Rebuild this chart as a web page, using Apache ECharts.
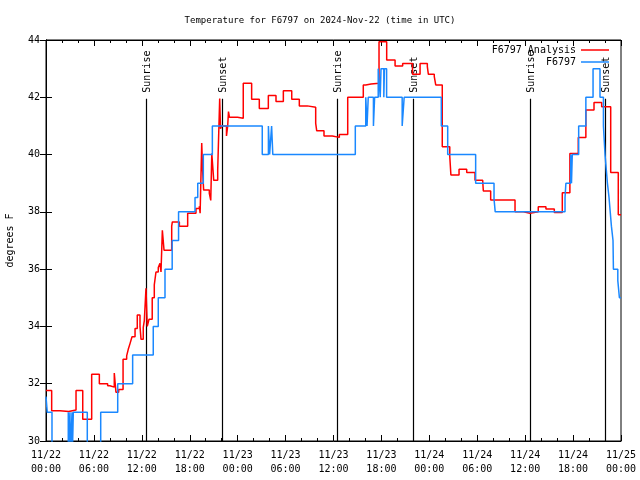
<!DOCTYPE html>
<html><head><meta charset="utf-8">
<script src="https://cdn.jsdelivr.net/npm/echarts@6/dist/echarts.min.js"></script>
<style>html,body{margin:0;padding:0;background:#fff}#c{width:640px;height:480px}</style>
</head><body><div id="c"></div>
<script>
// hours since 2024-11-22 00:00 UTC
const redTimes = [0,0.71,1.75,2.84,3.76,4.6,5.72,6.68,7.72,8.0,8.55,8.76,9.1,9.65,10.1,10.3,10.52,10.77,11.15,11.43,11.77,11.9,12.18,12.31,12.52,12.68,12.9,13.3,13.56,13.77,14.06,14.27,14.4,14.57,14.78,15.74,15.82,16.7,17.74,18.78,19.2,19.3,19.5,19.6,19.74,20.45,20.63,20.76,20.9,21.0,21.5,21.68,21.75,21.85,22.0,22.6,22.75,22.85,22.97,23.98,24.7,25.75,26.71,27.84,28.8,29.72,30.77,31.72,32.72,33.77,33.9,34.81,35.85,36.73,37.78,39.73,40.04,40.7,41.7,42.66,43.71,44.66,45.89,46.84,47.75,47.88,48.62,48.8,49.62,50.56,50.7,51.72,52.68,53.72,54.68,54.76,55.68,58.73,59.77,60.61,61.64,62.6,63.65,64.65,65.6,66.65,67.6,68.62,69.58,70.71,71.66,72];
const redValues = [31.76,31.06,31.03,31.08,31.76,30.76,32.33,32.0,31.93,31.88,32.37,31.7,31.8,32.85,32.97,33.2,33.4,33.64,33.93,34.4,34.0,33.55,33.97,34.2,35.33,34.0,34.25,35.0,35.45,35.9,36.06,36.2,35.9,37.36,36.66,37.5,37.65,37.5,37.95,38.12,38.2,37.95,40.4,39.5,38.76,38.65,38.4,40.04,39.5,39.1,39.46,39.46,41.96,40.9,41.0,40.65,41.0,41.5,41.3,41.27,42.49,41.93,41.61,42.06,41.85,42.23,41.93,41.7,41.65,41.09,40.83,40.65,40.6,40.7,42.0,42.43,42.46,42.49,43.94,43.3,43.09,43.18,42.8,43.18,43.07,42.8,42.72,42.43,40.27,39.93,39.29,39.49,39.37,39.1,39.05,38.73,38.41,38.0,37.95,38.0,38.18,38.1,37.98,38.67,40.04,40.6,41.56,41.82,41.67,39.37,37.9,37.9];
const blueTimes = [0,0.16,0.75,2.79,2.85,3.0,3.05,3.26,3.3,3.42,5.17,6.85,8.98,10.85,13.43,14.06,14.9,15.8,16.6,18.66,19.0,19.7,20.83,27.08,27.85,28.0,28.25,28.4,38.73,40.04,40.2,40.35,41.0,41.15,41.6,41.85,41.95,42.3,42.38,42.65,44.6,44.85,49.5,50.3,53.8,56.1,56.25,64.99,65.1,65.7,65.8,65.9,66.7,67.6,68.5,69.37,69.8,70.0,70.15,70.3,70.5,70.65,70.8,71.0,71.05,71.6,71.8,72];
const blueValues = [31.55,31.0,29.5,31.0,29.5,31.0,29.5,31.0,29.5,31.0,29.5,31.0,32.0,33.0,34.0,35.0,36.0,37.0,38.0,38.5,39.0,40.0,41.0,40.0,41.0,40.0,41.0,40.0,41.0,42.0,41.0,42.0,41.0,42.0,43.0,42.0,43.0,42.0,43.0,42.0,41.0,42.0,41.0,40.0,39.0,38.45,38.0,38.5,39.0,40.0,39.0,40.0,41.0,42.0,43.0,42.0,41.0,40.0,39.5,39.0,38.5,38.0,37.5,37.0,36.0,35.6,35.0,35.0];
const sunTimes = [12.52,22.04,36.44,46.0,60.57,70.04];
const sunLabels = ['Sunrise','Sunset','Sunrise','Sunset','Sunrise','Sunset'];
const yTicks = [30,32,34,36,38,40,42,44];
const seriesNames = ['F6797 Analysis','F6797'];

const FONT = 'DejaVu Sans Mono';
const zip = (a,b)=>a.map((t,i)=>[t,b[i]]);
function xLabel(h){
  const day = 22 + Math.floor(h/24);
  const hr = Math.round(h % 24);
  return '11/' + day + '\n' + String(hr).padStart(2,'0') + ':00';
}
const chart = echarts.init(document.getElementById('c'), null, {renderer:'canvas'});
const baseX = {type:'value', min:0, max:72, interval:6,
  axisLine:{show:true, lineStyle:{color:'#000', width:1}},
  axisTick:{show:true, inside:true, length:6, lineStyle:{color:'#000'}},
  minorTick:{show:true, splitNumber:3, length:3, lineStyle:{color:'#000'}},
  splitLine:{show:false}};
chart.setOption({
  animation:false,
  backgroundColor:'#fff',
  title:{text:'Temperature for F6797 on 2024-Nov-22 (time in UTC)', left:'center', top:11,
    textStyle:{fontFamily:FONT, fontSize:9, fontWeight:'normal', color:'#000'}},
  grid:{left:46, right:19, top:40, bottom:39, show:true, borderColor:'#000', borderWidth:1,
        containLabel:false, outerBoundsMode:'none'},
  legend:[
    {data:[seriesNames[0]], right:31, top:45, align:'right', icon:'rect', itemWidth:28, itemHeight:1.5, itemGap:0, padding:0,
     textStyle:{fontFamily:FONT, fontSize:10, color:'#000'}},
    {data:[seriesNames[1]], right:31, top:57, align:'right', icon:'rect', itemWidth:28, itemHeight:1.5, itemGap:0, padding:0,
     textStyle:{fontFamily:FONT, fontSize:10, color:'#000'}}
  ],
  xAxis:[
    Object.assign({}, baseX, {position:'bottom',
      axisLabel:{show:true, margin:7, formatter:xLabel, fontFamily:FONT, fontSize:10, color:'#000', lineHeight:14}}),
    Object.assign({}, baseX, {position:'top', axisLabel:{show:false}})
  ],
  yAxis:[
    {type:'value', min:yTicks[0], max:yTicks[yTicks.length-1], interval:2, position:'left',
      axisLine:{show:true, lineStyle:{color:'#000', width:1}},
      axisTick:{show:true, inside:true, length:6, lineStyle:{color:'#000'}},
      splitLine:{show:false},
      name:'degrees F', nameLocation:'middle', nameGap:31, nameRotate:90, nameMoveOverlap:false,
      nameTextStyle:{fontFamily:FONT, fontSize:10, color:'#000'},
      axisLabel:{show:true, inside:false, margin:6, fontFamily:FONT, fontSize:10, color:'#000',
        formatter:function(v){return String(v);}}},
    {type:'value', min:yTicks[0], max:yTicks[yTicks.length-1], interval:2, position:'right',
      axisLine:{show:true, lineStyle:{color:'#000', width:1}},
      axisTick:{show:true, inside:true, length:6, lineStyle:{color:'#000'}},
      splitLine:{show:false}, axisLabel:{show:false}}
  ],
  series:[
    {type:'custom', name:'sun', xAxisIndex:0, yAxisIndex:0, silent:true, z:1,
     data: sunTimes.map(t=>[t]),
     renderItem:function(params, api){
       const t = api.value(0);
       const top = api.coord([t, 41.95]);
       const bot = api.coord([t, 30]);
       return {type:'group', children:[
         {type:'line', shape:{x1:Math.round(top[0])+0.5, y1:top[1], x2:Math.round(bot[0])+0.5, y2:bot[1]},
          style:{stroke:'#000', lineWidth:1.2}},
         {type:'text', x:Math.round(top[0])+1, y:top[1]-6, rotation:Math.PI/2,
          style:{text:sunLabels[params.dataIndex], fontFamily:FONT, fontSize:10, fill:'#000',
                 textAlign:'left', textVerticalAlign:'middle'}}
       ]};
     }},
    {type:'line', name:seriesNames[0], data:zip(redTimes, redValues), step:'end', showSymbol:false, symbol:'none',
     lineStyle:{color:'#ff0000', width:1.5}, itemStyle:{color:'#ff0000'}, z:2, clip:true},
    {type:'line', name:seriesNames[1], data:zip(blueTimes, blueValues), step:'end', showSymbol:false, symbol:'none',
     lineStyle:{color:'#1a88ff', width:1.5}, itemStyle:{color:'#1a88ff'}, z:3, clip:true}
  ]
});
</script></body></html>
